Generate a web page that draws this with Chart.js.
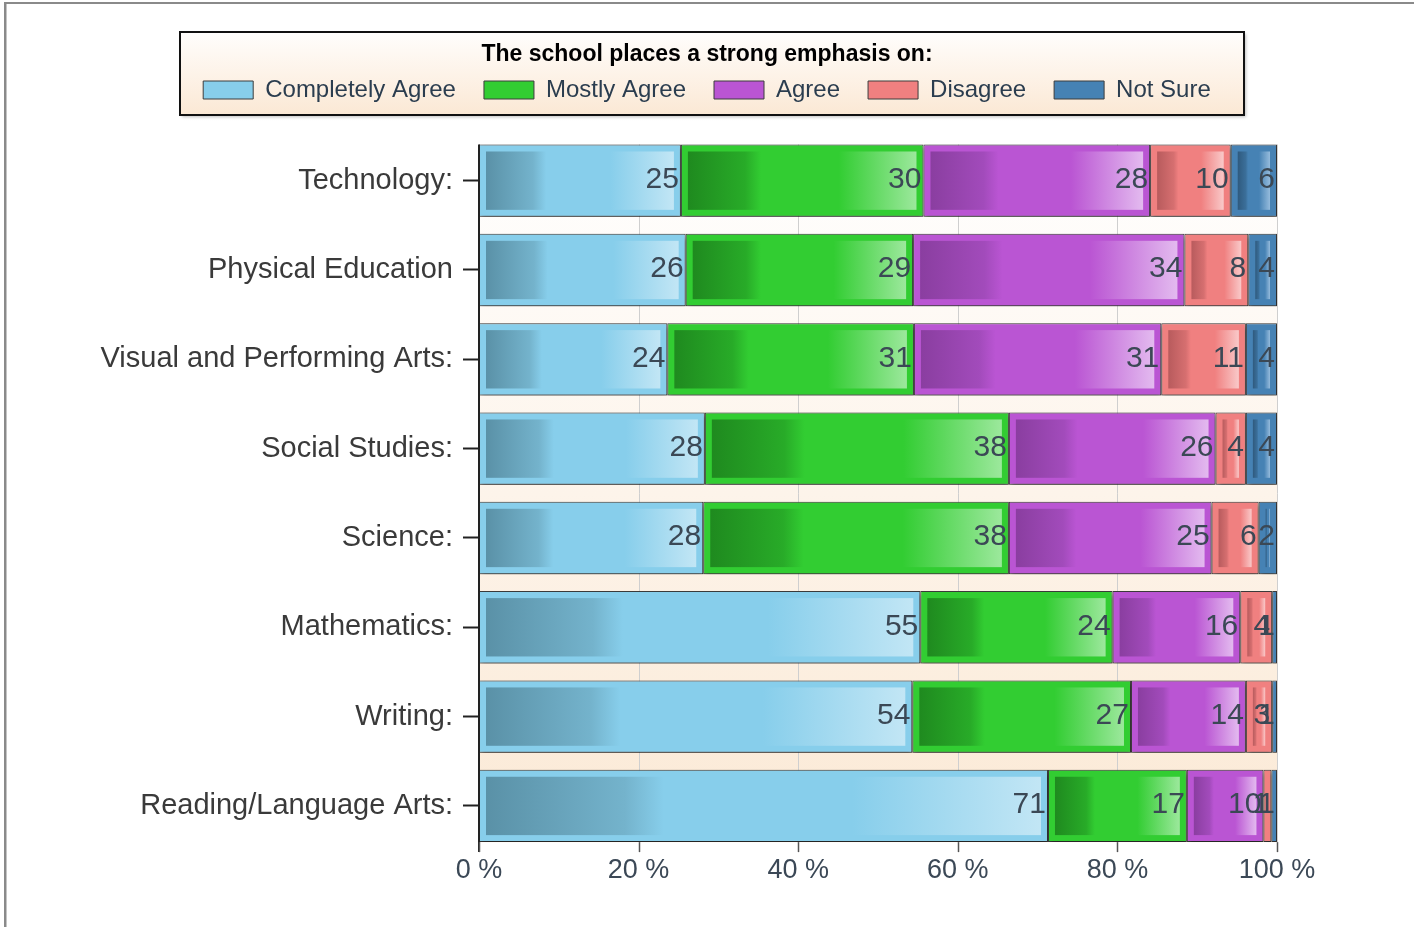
<!DOCTYPE html>
<html>
<head>
<meta charset="utf-8">
<script src="https://cdn.jsdelivr.net/npm/chart.js@4.4.1/dist/chart.umd.min.js"></script>
<style>
  html, body { margin: 0; padding: 0; background: #ffffff; }
  #wrap { width: 1414px; height: 927px; position: relative; }
</style>
</head>
<body>
<div id="wrap"><canvas id="c" width="1414" height="927"></canvas></div>
<script>
// ---------- data ----------
const categories = [
  'Technology:',
  'Physical Education',
  'Visual and Performing Arts:',
  'Social Studies:',
  'Science:',
  'Mathematics:',
  'Writing:',
  'Reading/Language Arts:'
];
const seriesNames = ['Completely Agree', 'Mostly Agree', 'Agree', 'Disagree', 'Not Sure'];
const completelyAgree = [25.3, 25.9, 23.6, 28.3, 28.1, 55.3, 54.3, 71.3];
const mostlyAgree     = [30.4, 28.5, 30.9, 38.1, 38.3, 24.1, 27.4, 17.4];
const agree           = [28.4, 34.0, 31.0, 25.9, 25.4, 16.0, 14.4,  9.6];
const disagree        = [10.1,  8.0, 10.6,  3.8,  5.9,  4.0,  3.3,  1.0];
const notSure         = [ 5.8,  3.6,  3.9,  3.9,  2.3,  0.6,  0.6,  0.7];
const xTickValues = [0, 20, 40, 60, 80, 100];
const legendTitle = 'The school places a strong emphasis on:';

// ---------- styles ----------
const baseColors  = ['#87ceeb', '#32cd32', '#ba55d3', '#f08080', '#4682b4'];
const darkColors  = ['#5a91a7', '#1f8a1f', '#8a3ea0', '#b85b5d', '#2f5a7e'];
const midColors   = ['#74b3cc', '#28ab28', '#a24bbb', '#d66f70', '#3b6f9a'];
const lightColors = ['#c2e6f5', '#9ce89c', '#e3baef', '#f9c9c9', '#95bbdc'];
const FONT = '"Liberation Sans", Arial, sans-serif';

const seriesValues = [completelyAgree, mostlyAgree, agree, disagree, notSure];

const datasets = seriesNames.map((name, i) => ({
  label: name,
  data: seriesValues[i],
  backgroundColor: baseColors[i],
  borderColor: '#3c3c3c',
  borderWidth: 1,
  borderSkipped: false,
  categoryPercentage: 1.0,
  barPercentage: 0.81
}));

function barExtent(chart) {
  const meta = chart.getDatasetMeta(0);
  const first = meta.data[0].getProps(['y', 'height'], true);
  const last = meta.data[meta.data.length - 1].getProps(['y', 'height'], true);
  return { top: first.y - first.height / 2, bottom: last.y + last.height / 2 };
}

const decorPlugin = {
  id: 'decor',
  beforeDraw(chart) {
    const ctx = chart.ctx;
    const W = chart.width, H = chart.height;
    ctx.save();
    ctx.fillStyle = '#ffffff';
    ctx.fillRect(0, 0, W, H);
    // outer frame (left + top)
    ctx.fillStyle = '#8a8a8a';
    ctx.fillRect(4, 2, 2.5, H - 2);
    ctx.fillRect(4, 2, W - 4, 2);
    // legend frame
    ctx.save();
    ctx.shadowColor = 'rgba(0,0,0,0.25)';
    ctx.shadowBlur = 3;
    ctx.shadowOffsetX = 2;
    ctx.shadowOffsetY = 2;
    const lg = ctx.createLinearGradient(0, 31, 0, 116);
    lg.addColorStop(0, '#fffefd');
    lg.addColorStop(1, '#fbe8d4');
    ctx.fillStyle = lg;
    ctx.fillRect(180, 32, 1064, 83);
    ctx.restore();
    ctx.strokeStyle = '#111111';
    ctx.lineWidth = 2;
    ctx.strokeRect(180, 32, 1064, 83);
    // plot background (between first bar top and last bar bottom)
    const a = chart.chartArea;
    const e = barExtent(chart);
    const pg = ctx.createLinearGradient(0, e.top, 0, e.bottom);
    pg.addColorStop(0, '#ffffff');
    pg.addColorStop(1, '#fbe9d5');
    ctx.fillStyle = pg;
    ctx.fillRect(a.left, e.top, a.right - a.left, e.bottom - e.top);
    ctx.restore();
  },
  beforeDatasetsDraw(chart) {
    const ctx = chart.ctx;
    const xs = chart.scales.x;
    const e = barExtent(chart);
    // vertical grid lines
    ctx.save();
    ctx.strokeStyle = '#cfcfcf';
    ctx.lineWidth = 1;
    xTickValues.forEach(v => {
      const px = Math.round(xs.getPixelForValue(v)) + 0.5;
      ctx.beginPath();
      ctx.moveTo(px, e.top);
      ctx.lineTo(px, e.bottom);
      ctx.stroke();
    });
    ctx.restore();
    // shadow for bars
    ctx.save();
    ctx.shadowColor = 'rgba(0,0,0,0.5)';
    ctx.shadowBlur = 5;
    ctx.shadowOffsetX = 1;
    ctx.shadowOffsetY = 3;
  },
  afterDatasetsDraw(chart) {
    const ctx = chart.ctx;
    ctx.restore();
    ctx.save();
    const inset = 7;
    chart.data.datasets.forEach((ds, i) => {
      const meta = chart.getDatasetMeta(i);
      meta.data.forEach((bar, j) => {
        const p = bar.getProps(['x', 'base', 'y', 'height'], true);
        const left = Math.min(p.x, p.base), right = Math.max(p.x, p.base);
        const top = p.y - p.height / 2, bottom = p.y + p.height / 2;
        const l = left + inset, r = right - inset, t = top + inset, b = bottom - inset;
        if (r - l > 2) {
          const g = ctx.createLinearGradient(l, 0, r, 0);
          g.addColorStop(0, darkColors[i]);
          g.addColorStop(0.25, midColors[i]);
          g.addColorStop(0.32, baseColors[i]);
          g.addColorStop(0.66, baseColors[i]);
          g.addColorStop(1, lightColors[i]);
          ctx.fillStyle = g;
          ctx.fillRect(l, t, r - l, b - t);
        }
      });
    });
    // value labels
    ctx.font = '30px ' + FONT;
    ctx.textAlign = 'right';
    ctx.textBaseline = 'middle';
    ctx.fillStyle = '#3b4855';
    chart.data.datasets.forEach((ds, i) => {
      const meta = chart.getDatasetMeta(i);
      meta.data.forEach((bar, j) => {
        const p = bar.getProps(['x', 'base', 'y'], true);
        const right = Math.max(p.x, p.base);
        ctx.fillText(String(Math.round(ds.data[j])), right - 2, p.y - 1);
      });
    });
    // y axis line and x tick marks
    const xs = chart.scales.x;
    const a = chart.chartArea;
    const e = barExtent(chart);
    ctx.strokeStyle = '#222222';
    ctx.lineWidth = 2;
    ctx.beginPath();
    ctx.moveTo(a.left, e.top);
    ctx.lineTo(a.left, e.bottom + 10);
    ctx.stroke();
    ctx.strokeStyle = '#555555';
    ctx.lineWidth = 1.5;
    xTickValues.forEach(v => {
      const px = Math.round(xs.getPixelForValue(v)) + 0.5;
      ctx.beginPath();
      ctx.moveTo(px, e.bottom);
      ctx.lineTo(px, e.bottom + 10);
      ctx.stroke();
    });
    ctx.restore();
  }
};

new Chart(document.getElementById('c'), {
  type: 'bar',
  data: { labels: categories, datasets: datasets },
  options: {
    indexAxis: 'y',
    responsive: false,
    animation: false,
    layout: { padding: { top: 25, right: 0, bottom: 36, left: 0 } },
    scales: {
      x: {
        stacked: true,
        min: 0,
        max: 100,
        grid: { display: false, drawTicks: false },
        border: { display: false },
        ticks: {
          stepSize: 20,
          padding: 4,
          color: '#3b4856',
          font: { family: FONT, size: 27 },
          callback: (v) => v + ' %'
        }
      },
      y: {
        stacked: true,
        afterFit: (scale) => { scale.width = 479; },
        grid: {
          display: true,
          drawOnChartArea: false,
          drawTicks: true,
          tickLength: 16,
          tickWidth: 2,
          tickColor: '#222222',
          offset: false
        },
        border: { display: false },
        ticks: {
          padding: 10,
          color: '#3a3a3a',
          font: { family: FONT, size: 29 }
        }
      },
      yRight: {
        type: 'category',
        position: 'right',
        display: true,
        grid: { display: false, drawTicks: false },
        border: { display: false },
        ticks: { display: false },
        afterFit: (scale) => { scale.width = 137; }
      }
    },
    plugins: {
      legend: {
        position: 'top',
        labels: {
          boxWidth: 50,
          boxHeight: 18,
          padding: 28,
          color: '#2b3d4f',
          font: { family: FONT, size: 24 }
        },
        title: {
          display: true,
          text: legendTitle,
          color: '#000000',
          font: { family: FONT, size: 23, weight: 'bold' },
          padding: { top: 18, bottom: -20.6 }
        }
      },
      subtitle: {
        display: true,
        text: ' ',
        weight: 500,
        font: { size: 2, lineHeight: 1 },
        padding: { top: 0, bottom: 22 }
      },
      tooltip: { enabled: false }
    }
  },
  plugins: [decorPlugin]
});
</script>
</body>
</html>
